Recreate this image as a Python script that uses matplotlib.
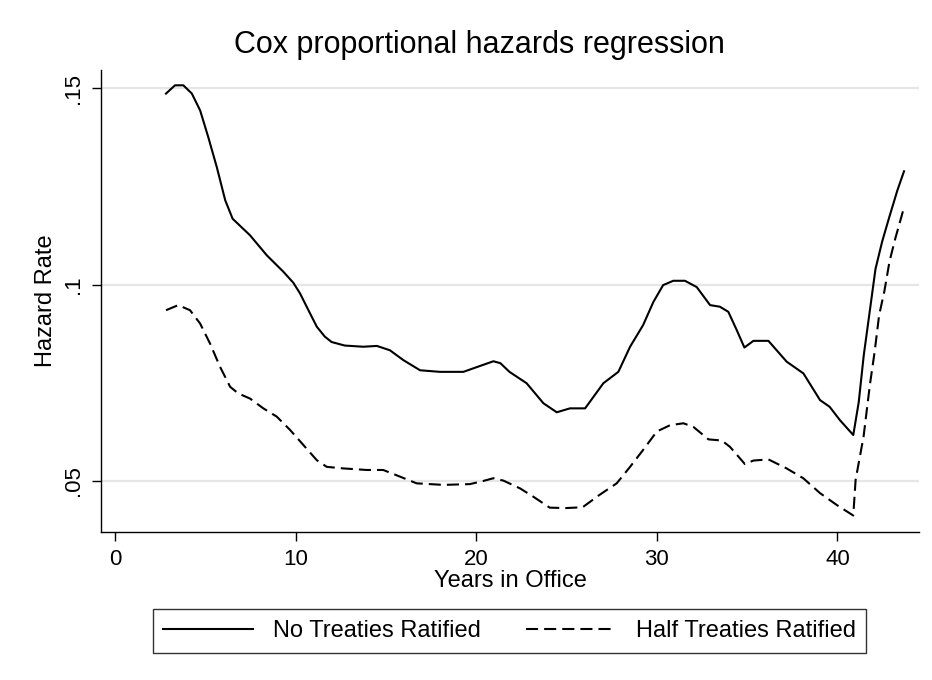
import matplotlib
matplotlib.use("Agg")
import matplotlib.pyplot as plt
from matplotlib.lines import Line2D

plt.rcParams['font.family'] = ['Liberation Sans', 'DejaVu Sans']

# hazard curves (years in office, hazard rate)
years_none = [2.82, 3.32, 3.78, 4.25, 4.71, 5.16, 5.63, 6.10, 6.51, 7.47,
              8.40, 9.32, 9.87, 10.24, 10.61, 11.17, 11.61, 11.99, 12.72, 13.74,
              14.50, 15.22, 15.96, 16.89, 17.99, 19.29, 20.21, 20.95, 21.34, 21.84,
              22.79, 23.72, 24.46, 25.19, 26.03, 27.04, 27.87, 28.52, 29.24, 29.81,
              30.35, 30.91, 31.56, 32.21, 32.95, 33.49, 33.96, 34.43, 34.85, 35.35,
              36.18, 37.19, 38.12, 39.04, 39.57, 40.14, 40.88, 41.18, 41.46, 41.83,
              42.11, 42.48, 42.86, 43.32, 43.69]
hazard_none = [0.1487, 0.1508, 0.1508, 0.1487, 0.1444, 0.1376, 0.1300, 0.1215, 0.1168, 0.1126,
               0.1075, 0.1033, 0.1005, 0.0978, 0.0944, 0.0893, 0.0868, 0.0854, 0.0845, 0.0842,
               0.0844, 0.0833, 0.0808, 0.0782, 0.0778, 0.0778, 0.0793, 0.0805, 0.0800, 0.0778,
               0.0749, 0.0698, 0.0675, 0.0685, 0.0685, 0.0749, 0.0778, 0.0842, 0.0897, 0.0956,
               0.0999, 0.1010, 0.1010, 0.0994, 0.0948, 0.0944, 0.0931, 0.0884, 0.0840, 0.0857,
               0.0857, 0.0804, 0.0774, 0.0706, 0.0689, 0.0655, 0.0617, 0.0700, 0.0820, 0.0945,
               0.1040, 0.1110, 0.1170, 0.1240, 0.1289]

years_half = [2.82, 3.50, 4.15, 4.71, 5.26, 5.81, 6.37, 6.82, 7.47, 8.21,
              8.95, 9.69, 10.42, 11.17, 11.72, 12.64, 13.94, 14.85, 15.78, 16.70,
              18.18, 19.65, 20.39, 20.95, 21.50, 22.43, 23.16, 24.07, 24.98, 25.89,
              26.81, 27.78, 28.52, 29.24, 30.00, 30.73, 31.47, 32.02, 32.86, 33.60,
              34.05, 34.88, 35.35, 36.18, 37.19, 38.11, 39.04, 39.96, 40.88, 41.01,
              41.45, 41.80, 42.06, 42.31, 42.60, 42.89, 43.22, 43.43, 43.69]
hazard_half = [0.0935, 0.0948, 0.0935, 0.0901, 0.0850, 0.0791, 0.0740, 0.0723, 0.0710, 0.0685,
               0.0664, 0.0630, 0.0592, 0.0553, 0.0536, 0.0532, 0.0528, 0.0528, 0.0511, 0.0494,
               0.0490, 0.0492, 0.0500, 0.0507, 0.0501, 0.0481, 0.0460, 0.0432, 0.0431, 0.0433,
               0.0464, 0.0494, 0.0536, 0.0579, 0.0626, 0.0642, 0.0647, 0.0638, 0.0606, 0.0603,
               0.0587, 0.0543, 0.0552, 0.0555, 0.0532, 0.0507, 0.0469, 0.0439, 0.0412, 0.0503,
               0.0613, 0.0745, 0.0828, 0.0922, 0.0983, 0.1060, 0.1120, 0.1154, 0.1197]

x_ticks = [0, 10, 20, 30, 40]
y_ticks = [0.05, 0.1, 0.15]
y_tick_labels = ['.05', '.1', '.15']
labels = ['No Treaties Ratified', 'Half Treaties Ratified']

dash = (0, (5.8, 2.9))

fig = plt.figure(figsize=(9.32, 6.8), dpi=100)
ax = fig.add_axes([101 / 932, 1 - 532 / 680, (919 - 101) / 932, (532 - 70) / 680])

for y in y_ticks:
    ax.axhline(y, color='#e6e6e6', linewidth=1.6, zorder=0)

ax.plot(years_none, hazard_none, color='black', linewidth=1.5, label=labels[0])
ax.plot(years_half, hazard_half, color='black', linewidth=1.5,
        linestyle=dash, label=labels[1])

ax.set_xlim(-0.78, 44.52)
ax.set_ylim(0.0370, 0.1547)
ax.set_xticks(x_ticks)
ax.set_yticks(y_ticks)
ax.set_yticklabels(y_tick_labels, rotation=90, va='center')
ax.tick_params(axis='both', direction='out', length=6.5, width=1.0,
               labelsize=16, pad=6, colors='black')

for side in ['top', 'right']:
    ax.spines[side].set_visible(False)
for side in ['left', 'bottom']:
    ax.spines[side].set_linewidth(1.0)

ax.set_xlabel('Years in Office', fontsize=17, labelpad=0)
ax.set_ylabel('Hazard Rate', fontsize=17, labelpad=4)

fig.text(479.5 / 932, 1 - 45 / 680, 'Cox proportional hazards regression',
         fontsize=22, ha='center', va='center')

handles = [Line2D([], [], color='black', linewidth=1.5),
           Line2D([], [], color='black', linewidth=1.5, linestyle=dash)]
leg = fig.legend(handles, labels, loc='center', bbox_to_anchor=(509.5 / 932, 1 - 631 / 680),
                 ncol=2, fontsize=17, frameon=True, fancybox=False, edgecolor='black',
                 handlelength=3.8, handletextpad=0.85, columnspacing=1.9,
                 borderpad=0.45)
leg.get_frame().set_linewidth(1.0)

fig.savefig('out.png', dpi=100, facecolor='white')
